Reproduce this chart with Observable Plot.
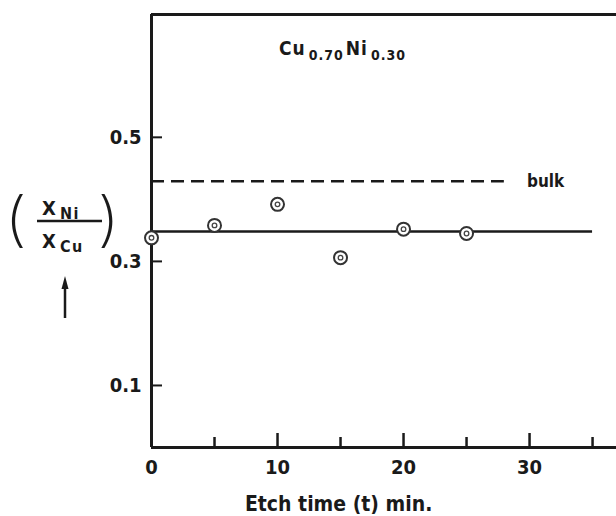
<!DOCTYPE html>
<html><head><meta charset="utf-8">
<script src="https://cdn.jsdelivr.net/npm/d3@7"></script>
<script src="https://cdn.jsdelivr.net/npm/@observablehq/plot@0.6"></script>
<style>body{margin:0;background:#fff}</style>
</head><body><div id="chart"></div>
<script>
// ---- data ----
const etchTimes = [0, 5, 10, 15, 20, 25];
const niCuRatios = [0.338, 0.358, 0.392, 0.306, 0.352, 0.345];
const levelNames = ["surface", "bulk"];
const levelValues = [0.348, 0.429];
const levelFrom = [0, 0];
const levelTo = [35, 28];
const xTickValues = [0, 10, 20, 30];
const xMinorTickValues = [5, 15, 25, 35];
const yTickValues = [0.1, 0.3, 0.5];
const xDomain = [0, 36.9];
const yDomain = [0, 0.698];
const bulkLabel = "bulk";
const bulkLabelTime = 29.8;
const alloyLabelTime = 15.2;
const alloyLabelRatio = 0.632;
const xAxisTitle = "Etch time (t) min.";

// ---- layout ----
const W = 616, H = 516, mL = 151, mT = 14, mB = 69, mR = 0;
const innerW = W - mL - mR, innerH = H - mT - mB;
const ink = "#1a1a1a";
const font = "'DejaVu Sans Condensed', 'DejaVu Sans', sans-serif";
const parenFont = "Inter, Roboto, 'Liberation Sans', sans-serif";

const points = etchTimes.map((t, i) => ({t, r: niCuRatios[i]}));
const levels = levelNames.map((n, i) => ({name: n, value: levelValues[i], from: levelFrom[i], to: levelTo[i]}));

const plot = Plot.plot({
  width: W, height: H,
  marginLeft: mL, marginTop: mT, marginBottom: mB, marginRight: mR,
  x: {domain: xDomain},
  y: {domain: yDomain},
  style: {fontFamily: font, background: "#fff", color: ink},
  marks: [
    Plot.axisX(xTickValues, {tickSize: 0, tickPadding: 12, fontSize: 20, fontWeight: "bold", label: null}),
    Plot.axisY(yTickValues, {tickSize: 0, tickPadding: 10, fontSize: 20, fontWeight: "bold", label: null, tickFormat: d => d.toFixed(1)}),
    Plot.tickX(xTickValues.filter(d => d > 0), {x: d => d, insetTop: innerH - 14, strokeWidth: 2.5, stroke: ink}),
    Plot.tickX(xMinorTickValues, {x: d => d, insetTop: innerH - 10, strokeWidth: 2.5, stroke: ink}),
    Plot.tickY(yTickValues, {y: d => d, insetRight: innerW - 11, strokeWidth: 2, stroke: ink}),
    Plot.ruleY(levels.filter(d => d.name === "bulk"), {y: "value", x1: "from", x2: "to", strokeWidth: 2.5, strokeDasharray: "13,7", stroke: ink}),
    Plot.ruleY(levels.filter(d => d.name === "surface"), {y: "value", x1: "from", x2: "to", strokeWidth: 2.5, stroke: ink}),
    Plot.ruleX([0], {strokeWidth: 3, stroke: ink}),
    Plot.ruleY([yDomain[0]], {strokeWidth: 3, stroke: ink}),
    Plot.ruleY([yDomain[1]], {strokeWidth: 3, stroke: ink}),
    Plot.dot(points, {x: "t", y: "r", r: 6.5, stroke: "#333", strokeWidth: 2, fill: "#fff"}),
    Plot.dot(points, {x: "t", y: "r", r: 2.3, stroke: "#444", strokeWidth: 1.3, fill: "none"}),
    Plot.text([bulkLabel], {x: bulkLabelTime, y: levelValues[1], text: d => d, textAnchor: "start", fontSize: 17, fontWeight: "bold", fill: ink, letterSpacing: "1.5px"}),
    Plot.text([xAxisTitle], {x: (xDomain[0] + xDomain[1]) / 2 - 3.6, frameAnchor: "bottom", dy: 63, text: d => d, fontSize: 21, fontWeight: "bold", fill: ink, letterSpacing: "3.6px"})
  ]
});
document.getElementById("chart").appendChild(plot);

// ---- annotations (rich text) ----
const svg = d3.select(plot);
const sx = plot.scale("x").apply, sy = plot.scale("y").apply;

// alloy composition label with subscripts
const alloy = svg.append("text")
  .attr("x", sx(alloyLabelTime)).attr("y", sy(alloyLabelRatio))
  .attr("text-anchor", "middle").attr("font-family", font).attr("fill", ink)
  .attr("font-size", 19).attr("font-weight", "bold").attr("letter-spacing", "1px");
alloy.append("tspan").text("Cu");
alloy.append("tspan").attr("font-size", 14).attr("dy", 5).attr("dx", 3).text("0.70");
alloy.append("tspan").attr("dy", -5).attr("dx", 2).text("Ni");
alloy.append("tspan").attr("font-size", 14).attr("dy", 5).attr("dx", 3).text("0.30");

// y-axis label (X_Ni / X_Cu) with arrow
const g = svg.append("g").attr("fill", ink).attr("text-anchor", "start");
g.append("text").attr("transform", "translate(4,240) scale(1.3,1.1)").attr("font-family", parenFont).attr("font-weight", 200).attr("font-size", 54).text("(");
g.append("text").attr("transform", "translate(97,240) scale(1.3,1.1)").attr("font-family", parenFont).attr("font-weight", 200).attr("font-size", 54).text(")");
const num = g.append("text").attr("x", 42).attr("y", 215).attr("font-family", font).attr("font-size", 20).attr("font-weight", "bold").attr("letter-spacing", "1px");
num.append("tspan").text("X");
num.append("tspan").attr("font-size", 16).attr("dy", 4).attr("dx", 3).attr("letter-spacing", "1.5px").text("Ni");
g.append("line").attr("x1", 37).attr("x2", 102).attr("y1", 221).attr("y2", 221).attr("stroke", ink).attr("stroke-width", 2.5);
const den = g.append("text").attr("x", 42).attr("y", 248).attr("font-family", font).attr("font-size", 20).attr("font-weight", "bold").attr("letter-spacing", "1px");
den.append("tspan").text("X");
den.append("tspan").attr("font-size", 16).attr("dy", 4).attr("dx", 3).attr("letter-spacing", "1.5px").text("Cu");
g.append("line").attr("x1", 65).attr("x2", 65).attr("y1", 318).attr("y2", 286).attr("stroke", ink).attr("stroke-width", 2.5);
g.append("path").attr("d", "M65,276 L61.5,289 L68.5,289 Z").attr("fill", ink);
</script>
</body></html>
